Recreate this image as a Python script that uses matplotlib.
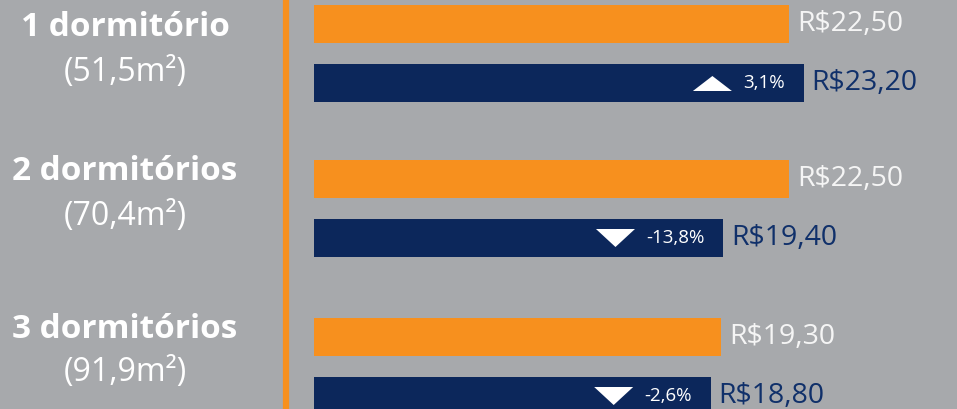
import matplotlib
matplotlib.use('Agg')
import matplotlib.pyplot as plt
from matplotlib.patches import Polygon

# data
categories = ['1 dormitório', '2 dormitórios', '3 dormitórios']
areas = ['(51,5m²)', '(70,4m²)', '(91,9m²)']
price_before = [22.50, 22.50, 19.30]
price_now = [23.20, 19.40, 18.80]
change_labels = ['3,1%', '-13,8%', '-2,6%']

bg = '#A7A9AC'
orange = '#F7901E'
navy = '#0C275B'

W, H = 957, 409
px_per_unit = 21.1
x0 = 314  # pixel where value 0 sits

fig = plt.figure(figsize=(W/100, H/100), dpi=100, facecolor=bg)
ax = fig.add_axes([0, 0, 1, 1], facecolor=bg)
ax.set_xlim(-x0/px_per_unit, (W-x0)/px_per_unit)
ax.set_ylim(H, 0)
ax.axis('off')

# vertical divider
ax.axvline((286-x0)/px_per_unit, color=orange, lw=4.5)

def fmt(v):
  return 'R$' + '{:.2f}'.format(v).replace('.', ',')

row_top = [5, 160, 318]
bar_h = 38
gap = 59
cat_y = [27, 172, 330]
area_y = [72, 216, 373]

fig.canvas.draw()
r = fig.canvas.get_renderer()
for i in range(len(categories)):
  yo = row_top[i] + bar_h/2
  yn = row_top[i] + gap + bar_h/2
  ax.barh(yo, price_before[i], height=bar_h, left=0, color=orange, lw=0)
  ax.barh(yn, price_now[i], height=bar_h, left=0, color=navy, lw=0)
  ax.text(price_before[i] + 8/px_per_unit, yo, fmt(price_before[i]), color='#F5F5F5',
          fontsize=20.5, family='Open Sans', va='center', ha='left')
  ax.text(price_now[i] + 8/px_per_unit, yn, fmt(price_now[i]), color='#10306A',
          fontsize=20.5, family='Open Sans', va='center', ha='left')
  t = ax.text(price_now[i] - 19/px_per_unit, yn, change_labels[i], color='white',
              fontsize=13.5, family='Open Sans', va='center', ha='right')
  bb = t.get_window_extent(renderer=r)
  right = (bb.x0 - 11 - x0)/px_per_unit
  left = right - 39/px_per_unit
  mid = (left + right)/2
  if change_labels[i].startswith('-'):
    pts = [(left, yn-9), (right, yn-9), (mid, yn+9)]
  else:
    pts = [(left, yn+8), (right, yn+8), (mid, yn-7)]
  ax.add_patch(Polygon(pts, closed=True, color='white', lw=0))
  # category labels
  fig.text(125/W, 1 - cat_y[i]/H, categories[i], color='white',
           fontsize=24, family='Open Sans', weight='bold', ha='center', va='center')
  fig.text(125/W, 1 - area_y[i]/H, areas[i], color='white',
           fontsize=23, family='Open Sans', ha='center', va='center')

fig.savefig('out.png', dpi=100, facecolor=bg)
plt.close(fig)
